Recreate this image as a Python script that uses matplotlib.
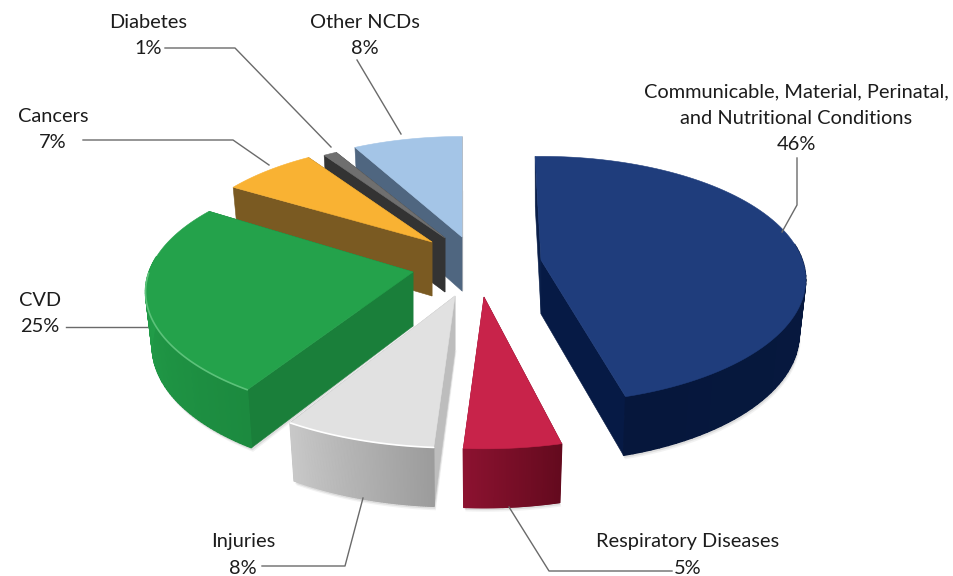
import numpy as np
import matplotlib
matplotlib.use("Agg")
import matplotlib.pyplot as plt
from matplotlib.patches import Polygon

# ---- data (clockwise from the top) ----
categories = ["Communicable, Material, Perinatal,\nand Nutritional Conditions",
              "Respiratory Diseases", "Injuries", "CVD", "Cancers", "Diabetes", "Other NCDs"]
values = [46, 5, 8, 25, 7, 1, 8]

# ---- style ----
START_ANGLE = 91.5
R, K, P = 264.0, 0.46, 0.16        # radius, tilt, perspective
H = 54.0                           # thickness
CENTER = (460, 270)
explode_px = [(81, -10), (24, 27), (-5, 26), (-47, 2), (-28, -28), (-15, -32), (2, -33)]
slice_scale = [0.99, 1.05, 1.05, 1.0, 0.95, 0.93, 0.96]
slice_turn = [0, -1.5, 0, -2, 0, 0, -1.5]
start_trim = [0, 0.7, 1.6, 0, 0, 0, 0]     # small visual gap between exploded slices, degrees
top_col = ["#1f3d7c", "#c8234a", "#e1e1e1", "#24a24b", "#f9b233", "#6f6f6f", "#a4c5e7"]
wall_col = [("#07193f", "#06173c"), ("#640a1e", "#8c1230"), ("#9c9c9c", "#c8c8c8"),
            ("#1c8a3f", "#22a04a"), ("#7a5a22", "#7a5a22"), ("#333333", "#333333"),
            ("#4f6680", "#4f6680")]
face_end_col = ["#061a45", "#8c1230", "#b0b0b0", "#1a7f3a", "#7a5a22", "#333333", "#b9bcc0"]
face_start_col = ["#0a1f4a", "#640a1e", "#bdbdbd", "#1a7f3a", "#7a5a22", "#333333", "#4f6680"]
highlight = [None, None, "#ffffff", "#5cc27a", None, None, None]
draw_order = [6, 5, 4, 2, 3, 1, 0]
LEADER = "#6a6a6a"

labels = [
    (796, 104, 0), (688, 542, 1), (243, 542, 2), (40, 301, 3),
    (53, 117, 4), (148, 22, 5), (365, 22, 6),
]
leaders = [
    [(797, 158), (797, 205), (782, 232)],
    [(509, 507), (549, 571), (672, 571)],
    [(363, 498), (345, 566), (262, 566)],
    [(66, 327), (147, 327)],
    [(83, 140), (233, 140), (269, 165)],
    [(165, 48), (235, 48), (331, 147)],
    [(357, 60), (401, 134)],
]

plt.rcParams["font.family"] = ["Lato", "DejaVu Sans"]
fig = plt.figure(figsize=(9.54, 5.76), dpi=100)
ax = fig.add_axes([0, 0, 1, 1])
ax.set_xlim(0, 954)
ax.set_ylim(576, 0)
ax.axis("off")


def lerp_col(a, b, t):
    ca, cb = np.array(matplotlib.colors.to_rgb(a)), np.array(matplotlib.colors.to_rgb(b))
    return tuple(ca + (cb - ca) * t)


def rim(apex, th, sc):
    u, v = np.cos(th), np.sin(th)
    s = 1 / (1 + P * v)
    return np.column_stack([apex[0] + sc * R * u * s, apex[1] - sc * R * K * v * s])


def rim_low(apex, th, sc):
    u, v = np.cos(th), np.sin(th)
    s = 1 / (1 + P * v)
    return np.column_stack([apex[0] + 0.975 * sc * R * u * s,
                            apex[1] - sc * R * K * v * s + H * np.sqrt(s)])


def poly(pts, col, z, alpha=1.0, lw=0.4):
    ax.add_patch(Polygon(pts, closed=True, facecolor=col, edgecolor=col, lw=lw, alpha=alpha, zorder=z))


shares = np.array(values, dtype=float) / sum(values) * 360
ends = START_ANGLE - np.cumsum(shares)
starts = ends + shares

z = 1.0
for i in draw_order:
    apex = (CENTER[0] + explode_px[i][0], CENTER[1] + explode_px[i][1])
    low_apex = (apex[0], apex[1] + H)
    sc = slice_scale[i]
    th = np.radians(np.linspace(starts[i] - start_trim[i], ends[i], 90) + slice_turn[i])
    up, lo = rim(apex, th, sc), rim_low(apex, th, sc)

    # soft shadow under the slice
    for off, a in ((4, 0.10), (2.5, 0.18)):
        pts = np.vstack([[low_apex], lo + [0, off]])
        poly(pts + [off * 0.4, 0], "#808080", z, alpha=a, lw=0)
    z += 0.01

    # radial cut faces behind the outer wall
    poly([up[-1], apex, low_apex, lo[-1]], face_end_col[i], z)
    poly([up[0], apex, low_apex, lo[0]], face_start_col[i], z)
    z += 0.01

    # outer wall, front part only, as shaded strips
    front = np.sin(th) < 0.15
    if front.any():
        uf, lf = up[front], lo[front]
        poly(np.vstack([uf, lf[::-1]]), lerp_col(*wall_col[i], 0.5), z, lw=0)
        n = len(uf) - 1
        for j in range(n):
            q = [uf[j], uf[j + 1], lf[j + 1], lf[j]]
            poly(q, lerp_col(wall_col[i][0], wall_col[i][1], j / n), z, lw=1.0)
    z += 0.01

    # top surface
    poly(np.vstack([[apex], up]), top_col[i], z)
    z += 0.01
    if highlight[i]:
        f = np.sin(th) < 0
        ax.plot(up[f, 0], up[f, 1], color=highlight[i], lw=1.2, zorder=z, solid_capstyle="round")
    z += 0.01

for pts in leaders:
    arr = np.array(pts)
    ax.plot(arr[:, 0], arr[:, 1], color=LEADER, lw=1.0, zorder=50)

for x, y, i in labels:
    lines = categories[i].split("\n")
    for k, line in enumerate(lines + [f"{values[i]}%"]):
        ax.text(x, y - (len(lines) - 1) * 12 + k * 26,
                line, ha="center", va="center", fontsize=14.4, color="#1c1c1c", zorder=60)

fig.savefig("out.png", dpi=100, facecolor="white")
